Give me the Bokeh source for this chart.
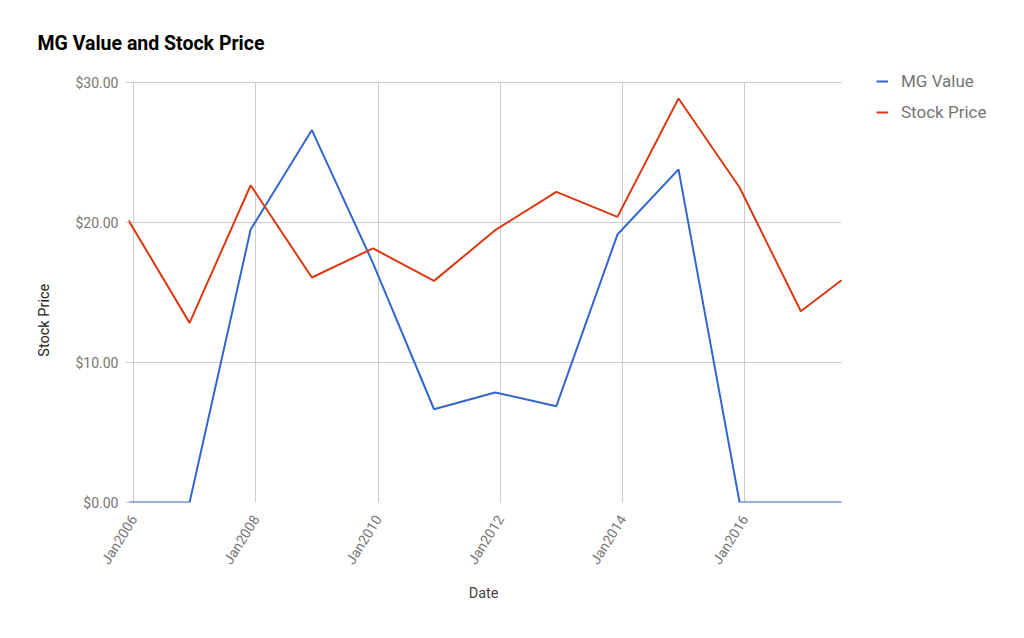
import math
import pandas as pd
from bokeh.plotting import figure
from bokeh.models import (Range1d, FixedTicker, NumeralTickFormatter, DatetimeTickFormatter,
                          Grid, Legend, LegendItem)
from bokeh.embed import file_html
from bokeh.resources import INLINE

# ---- data ----
dates = ["2005-12-01", "2006-12-01", "2007-12-01", "2008-12-01", "2009-12-01", "2010-12-01",
         "2011-12-01", "2012-12-01", "2013-12-01", "2014-12-01", "2015-12-01", "2016-12-01",
         "2017-08-01"]
mg_value = [0.0, 0.0, 19.50, 26.60, 17.10, 6.66, 7.86, 6.88, 19.14, 23.79, 0.0, 0.0, 0.0]
stock_price = [20.16, 12.83, 22.66, 16.07, 18.15, 15.83, 19.45, 22.19, 20.40, 28.86, 22.50, 13.66, 15.88]
x_tick_years = ["2006-01-01", "2008-01-01", "2010-01-01", "2012-01-01", "2014-01-01", "2016-01-01"]
y_ticks = [0, 10, 20, 30]
series_names = ["MG Value", "Stock Price"]

x = pd.to_datetime(dates)
FONT = "Roboto"
AXIS_TITLE_PX = 14.5
NBSP = "\u00a0"
SPACE_EM = 0.2476   # Roboto space advance

# ---- layout (pixels) ----
W, H = 1008, 622
DATA_L, DATA_R, DATA_T, DATA_B = 128, 841, 82, 502   # where the data area sits
FRAME_R, FRAME_T = 1000, 62                         # frame extended to host the legend
XLABEL_CENTER = 483
YLABEL_CENTER = 320

t0 = x[0].value // 10**6
t1 = x[-1].value // 10**6
y_top = max(y_ticks)
x_end = t0 + (t1 - t0) * (FRAME_R - DATA_L) / (DATA_R - DATA_L)
y_end = y_top * (DATA_B - FRAME_T) / (DATA_B - DATA_T)


def pad(shift_px):
    return NBSP * int(round(2 * shift_px / (SPACE_EM * AXIS_TITLE_PX)))


p = figure(width=W, height=H, x_axis_type="datetime", output_backend="svg",
           toolbar_location=None, tools="",
           x_range=Range1d(start=t0, end=x_end), y_range=Range1d(start=0, end=y_end),
           min_border_left=DATA_L, min_border_right=W - FRAME_R,
           min_border_top=FRAME_T, min_border_bottom=H - DATA_B)

p.background_fill_color = "white"
p.border_fill_color = "white"
p.outline_line_color = None

# title
p.title.text = "MG Value and Stock Price"
p.title.text_font = FONT
p.title.text_font_size = "19.5px"
p.title.text_font_style = "bold"
p.title.text_color = "#000000"
p.title.align = "left"
p.title.offset = -91
p.title.standoff = 16
p.title.vertical_align = "bottom"

# y axis
yax = p.yaxis[0]
yax.ticker = FixedTicker(ticks=y_ticks)
yax.formatter = NumeralTickFormatter(format="$0.00")
yax.axis_line_color = None
yax.major_tick_in = 0
yax.major_tick_out = 3
yax.major_tick_line_color = "#cccccc"
yax.minor_tick_line_color = None
yax.major_label_standoff = 7
yax.major_label_text_font = FONT
yax.major_label_text_font_size = "14px"
yax.major_label_text_color = "#757575"
yax.axis_label = "Stock Price" + pad(YLABEL_CENTER - (FRAME_T + DATA_B) / 2)
yax.axis_label_text_font = FONT
yax.axis_label_text_font_size = f"{AXIS_TITLE_PX}px"
yax.axis_label_text_font_style = "normal"
yax.axis_label_text_color = "#222222"
yax.axis_label_standoff = 19

# x axis
tick_ms = [int(pd.Timestamp(d).value // 10**6) for d in x_tick_years]
xax = p.xaxis[0]
xax.ticker = FixedTicker(ticks=tick_ms)
fmt = "%b%Y"
xax.formatter = DatetimeTickFormatter(milliseconds=fmt, seconds=fmt, minsec=fmt, minutes=fmt,
                                      hourmin=fmt, hours=fmt, days=fmt, months=fmt, years=fmt)
xax.axis_line_color = None
xax.major_tick_in = 0
xax.major_tick_out = 0
xax.minor_tick_line_color = None
xax.major_label_orientation = math.radians(58)
xax.major_label_standoff = 14
xax.major_label_text_font = FONT
xax.major_label_text_font_size = "14px"
xax.major_label_text_color = "#757575"
xax.axis_label = "Date" + pad((DATA_L + FRAME_R) / 2 - XLABEL_CENTER)
xax.axis_label_text_font = FONT
xax.axis_label_text_font_size = f"{AXIS_TITLE_PX}px"
xax.axis_label_text_font_style = "normal"
xax.axis_label_text_color = "#444444"
xax.axis_label_standoff = 11

# grids, limited to the data area
p.xgrid.ticker = FixedTicker(ticks=tick_ms)
p.ygrid.ticker = FixedTicker(ticks=[t for t in y_ticks if t != 0])
p.xgrid.grid_line_color = "#cccccc"
p.ygrid.grid_line_color = "#cccccc"
baseline = Grid(dimension=1, ticker=FixedTicker(ticks=[0]), grid_line_color="#333333",
                grid_line_width=1)
p.add_layout(baseline)

if "cross_bounds" in Grid.properties():
    p.xgrid.cross_bounds = (0, y_top)
    p.ygrid.cross_bounds = (t0, t1)
    baseline.cross_bounds = (t0, t1)
else:
    p.xgrid.visible = False
    p.ygrid.visible = False
    baseline.visible = False
    p.segment(x0=tick_ms, y0=[0] * len(tick_ms), x1=tick_ms, y1=[y_top] * len(tick_ms),
              line_color="#cccccc", line_width=1, level="underlay")
    p.segment(x0=[t0] * len(y_ticks), y0=y_ticks, x1=[t1] * len(y_ticks), y1=y_ticks,
              line_color=["#333333"] + ["#cccccc"] * (len(y_ticks) - 1), line_width=1, level="underlay")

r1 = p.line(x, mg_value, line_color="#3366cc", line_width=2)
r2 = p.line(x, stock_price, line_color="#dc3912", line_width=2)

legend = Legend(items=[LegendItem(label=series_names[0], renderers=[r1]),
                       LegendItem(label=series_names[1], renderers=[r2])],
                location=(876 - DATA_L, DATA_B - 122), orientation="vertical")
legend.padding = 0
legend.margin = 0
legend.spacing = 11
legend.glyph_width = 12
legend.glyph_height = 18
legend.label_height = 18
legend.label_standoff = 13
legend.label_text_font = FONT
legend.label_text_font_size = "17px"
legend.label_text_color = "#757575"
legend.border_line_color = None
legend.background_fill_alpha = 0
p.add_layout(legend, "center")

open("out.html", "w").write(file_html(p, INLINE))
